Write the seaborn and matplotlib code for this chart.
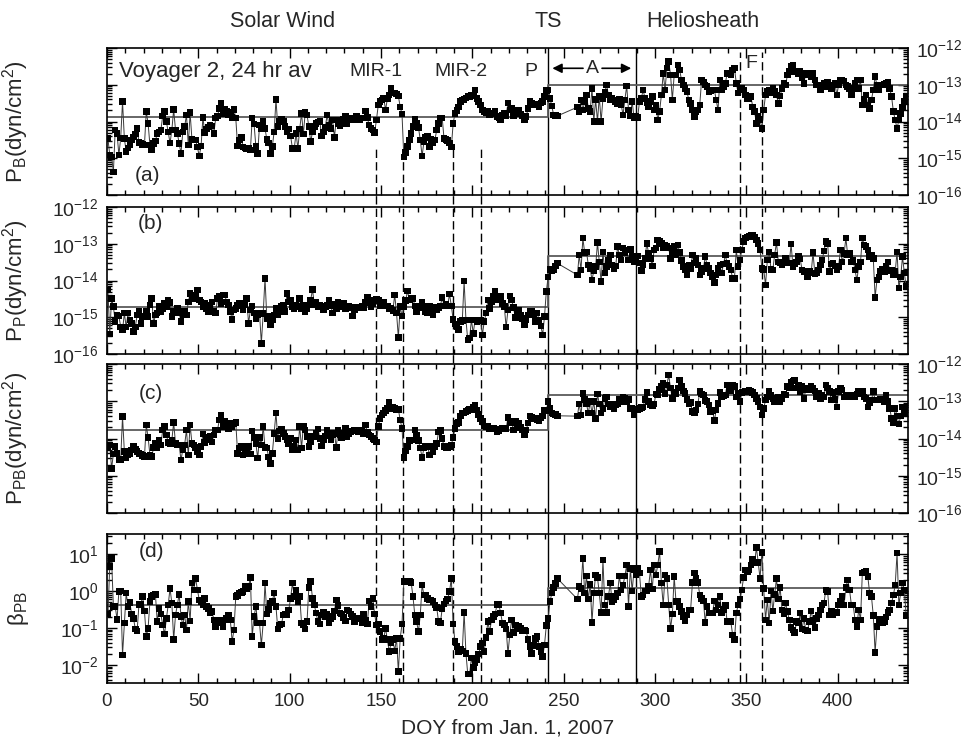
import numpy as np
import pandas as pd
import seaborn as sns
import matplotlib.pyplot as plt
from matplotlib.ticker import MultipleLocator, LogLocator, NullFormatter

# daily averages: days 0..246, data gap, days 257..437 (plotted at day centres)
doy_pre = np.arange(0, 247) + 0.5
doy_post = np.arange(257, 438) + 0.5

# log10 P_B (dyn/cm^2)
pb_pre = [
    -14.46, -14.91, -14.96, -15.37, -14.23, -14.32, -14.91, -14.45, -13.46, -14.46,
    -14.82, -14.72, -14.64, -14.50, -14.42, -14.34, -14.19, -14.57, -14.59, -14.62,
    -14.64, -13.73, -14.05, -14.64, -14.76, -14.60, -14.53, -14.32, -14.28, -14.23,
    -13.85, -13.73, -14.00, -14.28, -14.59, -14.23, -13.67, -14.23, -14.32, -14.60,
    -14.87, -14.28, -14.14, -13.82, -14.64, -13.76, -14.49, -14.50, -14.50, -14.70,
    -14.94, -14.67, -13.89, -14.30, -14.21, -14.15, -14.10, -14.12, -14.32, -13.91,
    -13.85, -13.64, -13.49, -13.78, -13.67, -13.73, -13.82, -13.76, -13.89, -13.67,
    -13.91, -14.67, -14.50, -14.43, -14.70, -14.72, -14.73, -14.74, -14.78, -13.91,
    -14.07, -14.68, -14.87, -14.10, -14.20, -14.00, -14.19, -14.49, -14.58, -14.87,
    -14.68, -14.28, -13.40, -14.14, -14.00, -13.94, -13.98, -14.14, -14.28, -14.21,
    -14.39, -14.73, -14.73, -14.32, -14.73, -14.20, -13.78, -14.34, -13.76, -13.82,
    -14.14, -14.55, -14.28, -14.14, -14.05, -14.02, -14.00, -14.39, -14.28, -14.16,
    -13.82, -14.10, -14.19, -13.96, -14.43, -13.96, -14.05, -14.11, -14.05, -13.94,
    -13.85, -14.07, -13.96, -13.96, -13.91, -13.94, -13.87, -13.92, -13.96, -13.91,
    -13.91, -13.71, -13.89, -14.10, -14.19, -14.23, -14.30, -13.96, -13.55, -13.45,
    -13.41, -13.37, -13.69, -13.37, -13.28, -13.10, -13.23, -13.23, -13.25, -13.31,
    -13.60, -13.80, -14.97, -14.85, -14.68, -14.50, -14.32, -14.14, -13.94, -14.05,
    -14.16, -14.50, -14.94, -14.55, -14.43, -14.41, -14.68, -14.49, -14.59, -14.50,
    -14.23, -14.05, -13.91, -13.91, -14.46, -14.49, -14.52, -14.59, -14.70, -14.05,
    -13.78, -13.70, -13.61, -13.46, -13.41, -13.40, -13.36, -13.32, -13.32, -13.28,
    -13.31, -13.14, -13.37, -13.46, -13.55, -13.69, -13.73, -13.76, -13.71, -13.82,
    -13.78, -13.78, -13.73, -13.87, -13.90, -13.96, -13.82, -13.78, -13.85, -13.49,
    -13.69, -13.64, -13.85, -13.69, -13.73, -13.69, -13.80, -13.85, -13.96, -13.87,
    -13.64, -13.46, -13.51, -13.55, -13.52, -13.55, -13.60, -13.50, -13.46, -13.32,
    -13.16, -13.14, -13.37, -13.58, -13.82, -13.84, -13.85,
]
pb_post = [
    -13.61, -13.73, -13.41, -13.69, -13.46, -13.28, -13.64, -13.73, -13.10, -14.00,
    -13.40, -14.00, -13.32, -14.00, -13.37, -13.20, -13.01, -13.28, -13.41, -13.37,
    -13.41, -13.46, -13.51, -13.40, -13.55, -13.82, -13.41, -13.03, -13.69, -13.85,
    -13.46, -13.89, -13.85, -13.89, -13.46, -13.37, -13.14, -13.37, -13.50, -13.60,
    -13.46, -13.32, -13.69, -13.55, -13.96, -13.73, -13.28, -12.69, -13.14, -12.55,
    -12.37, -12.73, -13.41, -12.73, -12.73, -12.46, -12.60, -12.87, -13.01, -13.10,
    -13.19, -13.41, -13.51, -13.69, -13.87, -13.73, -13.69, -13.55, -12.87, -12.92,
    -13.01, -13.05, -13.19, -13.15, -13.14, -13.14, -13.41, -13.69, -12.87, -13.14,
    -13.05, -12.96, -12.69, -12.69, -12.73, -12.60, -12.55, -12.96, -13.23, -13.10,
    -13.10, -13.14, -13.28, -13.37, -13.37, -13.32, -13.60, -13.73, -14.05, -13.87,
    -13.95, -14.19, -13.69, -13.28, -13.19, -13.14, -13.23, -13.10, -13.19, -13.28,
    -13.51, -13.30, -13.10, -12.96, -13.01, -12.73, -12.64, -12.51, -12.46, -12.64,
    -12.64, -12.69, -12.64, -12.80, -12.96, -12.69, -12.73, -12.69, -12.78, -12.69,
    -12.87, -13.01, -13.01, -13.14, -13.05, -12.96, -13.05, -12.92, -13.01, -13.10,
    -13.01, -12.96, -13.28, -13.01, -12.87, -12.87, -12.90, -13.01, -13.05, -13.10,
    -13.28, -13.10, -12.96, -12.87, -13.10, -12.87, -13.55, -13.40, -13.28, -13.55,
    -13.64, -13.41, -13.14, -12.78, -13.01, -13.14, -13.01, -13.01, -12.98, -12.96,
    -12.92, -13.10, -13.32, -13.73, -13.96, -14.19, -13.96, -13.78, -13.60, -13.46,
    -13.32,
]

# log10 P_P (dyn/cm^2)
pp_pre = [
    -14.26, -15.46, -14.49, -14.71, -15.12, -14.94, -14.97, -15.26, -15.35, -14.89,
    -15.26, -14.89, -15.07, -15.17, -15.39, -15.26, -14.94, -14.85, -15.17, -14.98,
    -14.98, -14.85, -14.98, -14.67, -14.49, -15.17, -14.94, -14.89, -14.71, -14.85,
    -14.76, -14.62, -14.71, -14.53, -14.60, -14.98, -14.85, -14.89, -14.76, -14.89,
    -15.12, -14.94, -14.85, -14.94, -14.58, -14.35, -14.49, -14.49, -14.40, -14.26,
    -14.53, -14.58, -14.71, -14.62, -14.76, -14.85, -14.67, -14.58, -14.85, -14.89,
    -14.49, -14.44, -14.62, -14.40, -14.40, -14.58, -14.67, -14.85, -15.06, -14.80,
    -14.76, -14.67, -14.62, -14.69, -14.80, -14.67, -14.49, -15.17, -14.80, -14.69,
    -14.89, -15.03, -14.94, -14.89, -15.71, -14.90, -13.94, -15.03, -14.98, -15.21,
    -15.07, -14.94, -14.76, -14.94, -14.85, -14.71, -14.67, -14.85, -14.35, -14.58,
    -14.53, -14.71, -14.76, -14.67, -14.71, -14.49, -14.76, -14.67, -14.85, -14.76,
    -14.67, -14.53, -14.24, -14.67, -14.58, -14.71, -14.67, -14.71, -14.80, -14.71,
    -14.67, -14.53, -14.69, -14.89, -14.64, -14.76, -14.58, -14.69, -14.71, -14.62,
    -14.76, -14.71, -14.69, -14.73, -14.97, -14.80, -14.73, -14.73, -14.73, -14.71,
    -14.73, -14.60, -14.46, -14.58, -14.71, -14.62, -14.53, -14.51, -14.55, -14.69,
    -14.60, -14.58, -14.69, -14.69, -14.76, -14.76, -14.82, -14.39, -14.88, -15.55,
    -14.71, -14.97, -14.71, -14.55, -14.28, -14.53, -14.49, -14.49, -14.69, -14.85,
    -14.69, -14.73, -14.58, -14.71, -14.85, -14.89, -14.71, -14.80, -14.94, -14.73,
    -14.80, -14.75, -14.69, -14.46, -14.69, -14.64, -14.69, -14.37, -14.69, -15.06,
    -15.18, -15.27, -15.33, -15.12, -15.09, -14.02, -15.07, -15.62, -15.57, -15.07,
    -15.44, -15.07, -15.12, -15.09, -15.07, -15.48, -15.12, -14.89, -14.53, -14.76,
    -14.58, -14.44, -14.28, -14.53, -14.48, -14.44, -14.62, -14.71, -15.27, -14.80,
    -14.42, -14.53, -14.73, -15.00, -14.82, -14.80, -14.94, -15.03, -15.21, -15.07,
    -14.94, -14.85, -14.85, -14.94, -15.12, -14.89, -15.07, -15.24, -15.48, -14.98,
    -14.30, -13.90, -13.70, -13.73, -13.72, -13.60, -13.53,
]
pp_post = [
    -13.85, -13.31, -13.71, -12.85, -13.24, -13.22, -13.58, -13.67, -13.99, -13.73,
    -13.62, -12.97, -13.49, -14.03, -13.22, -13.80, -13.62, -13.44, -13.31, -13.58,
    -13.67, -13.61, -13.08, -13.31, -13.44, -13.12, -13.25, -13.17, -13.44, -13.15,
    -13.35, -13.49, -13.49, -13.33, -13.53, -13.73, -13.58, -13.40, -12.99, -13.26,
    -13.40, -13.61, -13.17, -13.12, -12.90, -12.94, -13.00, -13.12, -13.03, -13.08,
    -13.12, -13.40, -13.26, -13.08, -13.31, -13.03, -13.24, -13.45, -13.62, -13.71,
    -13.85, -13.58, -13.67, -13.31, -13.53, -13.40, -13.58, -13.85, -13.75, -13.67,
    -13.35, -13.58, -13.67, -13.80, -13.90, -14.06, -13.85, -13.67, -13.58, -13.79,
    -13.55, -13.31, -13.53, -13.62, -13.71, -13.94, -13.94, -13.17, -13.62, -13.44,
    -13.17, -12.94, -12.85, -12.81, -12.79, -12.77, -12.76, -12.81, -12.90, -12.99,
    -13.17, -13.67, -13.70, -14.12, -13.44, -13.22, -13.70, -13.71, -13.30, -12.97,
    -13.49, -13.53, -13.58, -13.49, -13.40, -13.53, -13.53, -13.01, -13.62, -13.55,
    -13.49, -13.35, -13.42, -13.71, -13.76, -13.76, -13.90, -13.76, -13.79, -13.24,
    -13.82, -13.79, -13.71, -13.58, -13.44, -13.20, -12.94, -12.99, -13.76, -13.55,
    -13.53, -13.60, -13.71, -13.62, -13.17, -13.49, -13.26, -12.85, -13.31, -13.26,
    -13.49, -13.44, -13.71, -13.99, -13.62, -13.49, -12.85, -13.03, -13.08, -13.17,
    -13.35, -13.31, -13.40, -14.46, -13.99, -13.90, -13.76, -13.70, -13.76, -13.60,
    -13.49, -13.73, -13.71, -13.85, -13.76, -13.22, -14.21, -13.90, -13.35, -13.80,
    -14.17,
]

# log10 P_PB (dyn/cm^2)
ppb_pre = [
    -14.26, -14.17, -14.80, -14.42, -14.22, -14.40, -14.58, -14.56, -13.41, -14.35,
    -14.51, -14.44, -14.40, -14.31, -14.22, -14.29, -14.35, -14.40, -14.42, -14.45,
    -14.49, -13.64, -13.97, -14.44, -14.49, -14.24, -14.13, -14.26, -14.04, -14.17,
    -13.77, -13.68, -13.90, -14.11, -14.13, -14.04, -13.57, -14.13, -14.17, -14.17,
    -14.58, -14.29, -14.17, -13.77, -14.44, -13.64, -14.13, -14.17, -14.24, -14.35,
    -14.44, -14.22, -13.88, -14.11, -14.04, -13.97, -13.95, -14.09, -13.90, -13.77,
    -13.77, -13.50, -13.37, -13.68, -13.55, -13.64, -13.73, -13.59, -13.68, -13.60,
    -13.57, -14.40, -14.26, -14.22, -14.44, -14.40, -14.33, -14.22, -14.42, -13.80,
    -13.98, -14.13, -14.53, -13.97, -14.17, -13.68, -14.24, -14.26, -14.50, -14.67,
    -14.40, -13.86, -13.31, -14.00, -13.80, -13.74, -13.86, -13.95, -14.04, -14.13,
    -14.00, -14.31, -14.20, -14.04, -14.31, -13.68, -14.26, -13.66, -13.77, -13.95,
    -14.22, -14.09, -13.95, -13.95, -13.86, -13.74, -14.00, -14.20, -14.04, -13.93,
    -13.77, -13.86, -14.04, -13.90, -13.86, -14.24, -13.77, -13.91, -13.97, -13.86,
    -13.73, -13.95, -13.86, -13.82, -13.80, -13.77, -13.77, -13.82, -13.77, -13.77,
    -13.86, -13.64, -13.82, -13.91, -13.95, -14.00, -14.04, -14.09, -13.68, -13.46,
    -13.37, -13.32, -13.25, -13.19, -13.04, -13.16, -13.17, -13.19, -13.22, -13.22,
    -13.50, -13.73, -14.51, -14.33, -14.22, -14.06, -14.04, -14.04, -13.77, -13.90,
    -14.06, -14.26, -14.51, -14.26, -14.22, -14.22, -14.44, -14.22, -14.35, -14.22,
    -14.13, -13.82, -13.79, -14.00, -14.22, -14.24, -14.26, -14.22, -14.17, -13.97,
    -13.73, -13.60, -13.57, -13.40, -13.32, -13.31, -13.28, -13.25, -13.22, -13.23,
    -13.15, -13.10, -13.23, -13.35, -13.46, -13.55, -13.66, -13.68, -13.66, -13.73,
    -13.73, -13.73, -13.75, -13.82, -13.78, -13.75, -13.73, -13.73, -13.75, -13.43,
    -13.55, -13.57, -13.77, -13.55, -13.61, -13.59, -13.70, -13.77, -13.91, -13.77,
    -13.59, -13.40, -13.43, -13.46, -13.46, -13.50, -13.52, -13.45, -13.40, -13.23,
    -13.25, -13.01, -13.19, -13.32, -13.34, -13.35, -13.39,
]
ppb_post = [
    -13.40, -13.07, -13.37, -12.79, -12.95, -13.07, -13.32, -13.01, -13.32, -13.01,
    -13.46, -12.81, -13.07, -13.31, -13.19, -12.92, -12.88, -13.07, -13.15, -13.07,
    -13.19, -13.10, -13.07, -12.95, -13.01, -12.88, -12.92, -13.01, -12.95, -13.19,
    -13.19, -13.37, -13.22, -13.23, -13.19, -13.17, -13.15, -12.95, -12.77, -13.01,
    -13.10, -13.13, -13.07, -12.81, -12.83, -12.68, -12.60, -12.52, -12.79, -12.56,
    -12.30, -12.65, -12.92, -12.77, -12.79, -12.65, -12.43, -12.60, -12.72, -12.79,
    -12.95, -13.06, -13.04, -13.28, -13.32, -13.23, -13.07, -12.74, -12.80, -12.83,
    -12.98, -13.01, -13.10, -13.28, -13.25, -13.52, -13.23, -13.06, -12.77, -12.88,
    -12.85, -12.83, -12.56, -12.70, -12.72, -12.56, -12.61, -12.88, -12.79, -13.01,
    -12.77, -12.75, -12.74, -12.72, -12.70, -12.74, -12.77, -12.83, -12.92, -13.01,
    -13.15, -13.37, -13.19, -12.97, -12.88, -12.74, -12.85, -12.92, -13.01, -12.95,
    -12.88, -13.01, -12.92, -12.81, -12.83, -12.61, -12.65, -12.50, -12.45, -12.43,
    -12.65, -12.56, -12.74, -12.61, -12.92, -12.70, -12.65, -12.70, -12.59, -12.65,
    -12.72, -12.88, -12.79, -12.92, -12.83, -12.88, -12.56, -12.65, -12.74, -12.97,
    -12.77, -12.95, -13.15, -12.74, -12.65, -12.70, -12.88, -12.83, -12.88, -12.89,
    -12.83, -12.86, -12.88, -12.81, -12.74, -12.79, -12.72, -12.89, -12.92, -13.15,
    -13.04, -12.97, -12.74, -12.97, -12.97, -12.97, -12.95, -12.97, -13.01, -12.83,
    -13.01, -13.19, -13.46, -13.57, -13.19, -13.40, -13.61, -13.40, -13.15, -13.32,
    -13.16,
]

# log10 beta_PB
beta_pre = [
    -0.63, 0.66, 0.88, -0.42, -0.42, -0.77, -0.02, 0.00, -1.73, -0.87,
    -0.06, -0.42, -0.31, -0.63, -0.74, -1.03, -1.08, -0.36, -0.36, -0.15,
    -0.54, -1.23, -1.01, -0.29, -0.15, -0.11, -0.09, -0.83, -0.47, -0.63,
    -0.92, -1.17, -0.75, -0.38, 0.07, -0.33, -1.32, -0.65, -0.38, -0.09,
    -0.69, -0.92, -0.65, -1.05, -0.29, -0.81, 0.21, 0.03, 0.34, 0.03,
    -0.24, -0.30, -0.38, -0.20, -0.42, -0.47, -0.60, -0.56, -0.78, -0.96,
    -0.83, -0.78, -0.87, -0.96, -0.78, -0.74, -0.65, -0.78, -1.37, -1.05,
    -0.15, -0.13, -0.06, -0.04, -0.02, 0.12, 0.05, 0.12, 0.36, -1.23,
    -0.69, -0.42, -0.87, -0.87, -1.46, -0.87, 0.21, -0.63, -0.50, -0.33,
    -0.27, -0.06, -0.42, -1.03, -0.92, -0.90, -0.65, -0.63, -0.65, -0.51,
    -0.20, 0.21, -0.15, 0.03, -0.29, -0.15, -0.87, -0.92, -1.03, -0.83,
    0.09, 0.25, -0.20, -0.38, -0.60, -0.83, -0.90, -0.65, -0.58, -0.69,
    -0.63, -0.85, -0.74, -0.69, -0.54, -0.24, -0.40, -0.60, -0.63, -0.72,
    -0.81, -0.51, -0.54, -0.63, -0.69, -0.83, -0.76, -0.75, -0.74, -0.87,
    -0.63, -0.78, -0.90, -0.27, -0.42, -0.20, -0.63, -0.92, -0.90, -1.10,
    -1.32, -1.28, -1.01, -1.32, -1.64, -1.41, -1.32, -1.62, -1.28, -2.18,
    -1.28, -0.90, 0.25, 0.27, 0.25, 0.27, 0.23, -0.15, -0.65, -0.83,
    -1.10, -0.65, 0.16, -0.11, -0.11, -0.20, -0.24, -0.24, -0.29, -0.38,
    -0.45, -0.83, -0.87, -0.47, -0.35, -0.27, -0.22, -0.02, 0.34, -0.90,
    -1.37, -1.50, -1.64, -1.59, -1.62, -0.58, -1.69, -2.25, -2.25, -1.82,
    -2.07, -1.93, -1.87, -1.70, -1.50, -1.41, -1.64, -1.26, -0.83, -1.10,
    -0.78, -0.69, -0.63, -0.36, -0.36, -0.60, -0.87, -0.92, -1.03, -1.69,
    -1.19, -0.78, -1.12, -0.92, -1.01, -0.96, -1.00, -1.08, -1.05, -1.08,
    -1.32, -1.50, -1.69, -1.48, -1.28, -1.23, -1.50, -1.64, -1.78, -1.46,
    -0.94, -0.74, -0.29, -0.06, 0.09, 0.20, 0.34,
]
beta_post = [
    -0.22, 0.12, 0.07, 0.88, -0.06, 0.41, -0.22, 0.18, -0.85, -0.06,
    0.43, 0.36, -0.06, -0.58, 0.84, -0.38, -0.58, -0.15, 0.21, -0.29,
    -0.24, -0.15, -0.06, 0.41, 0.03, 0.16, 0.40, 0.70, -0.42, 0.61,
    0.00, 0.57, 0.45, 0.61, 0.48, -0.15, -0.11, 0.00, 0.00, 0.12,
    0.57, 0.05, 0.70, 0.43, 0.70, 1.06, 0.21, -0.38, 0.43, 0.34,
    -0.38, -1.01, -0.63, 0.39, -0.29, -0.29, -0.42, -0.55, -0.69, -0.81,
    -0.65, -0.51, -0.51, 0.23, 0.48, 0.34, 0.23, -0.11, -0.20, -0.27,
    -0.85, -0.42, -0.60, -0.60, -0.60, -0.27, -0.51, -0.38, -0.15, -0.58,
    -0.50, -0.40, -0.83, -0.83, -0.83, -1.19, -1.32, -0.60, -0.38, -0.22,
    0.03, 0.36, 0.57, 0.53, 0.57, 0.70, 0.86, 0.75, 1.17, 0.77,
    0.34, 1.04, 0.07, -0.78, -0.24, -0.87, 0.00, -0.54, -0.10, 0.34,
    -0.22, 0.09, -0.51, -0.63, -0.33, -0.56, -0.78, -0.99, -1.05, -1.12,
    -0.83, -0.87, -0.60, -1.03, -0.74, -1.05, -1.08, -0.83, -0.54, -0.80,
    -0.99, -0.74, -0.65, -0.51, -0.38, -0.33, 0.03, -0.02, -0.65, -0.54,
    -0.65, -0.60, -0.58, -0.38, -0.29, -0.15, -0.38, 0.09, 0.30, 0.03,
    -0.38, -0.38, -0.78, -0.96, -0.51, -0.78, 0.48, 0.50, 0.54, 0.39,
    -0.06, -0.15, -0.67, -1.66, -0.96, -0.81, -0.76, -0.85, -0.83, -0.70,
    -0.58, -0.51, -0.33, -0.11, 0.16, 1.02, -0.38, -0.06, 0.21, 0.03,
    -0.67,
]

# mean levels: solar wind / heliosheath
mean_sw = [1.35e-14, 1.87e-15, 1.7e-14, 0.42]
mean_hs = [1.0e-13, 4.7e-14, 1.47e-13, 1.23]

# event boundaries (DOY)
ts_day = 241.4
a_end = 289.8
mir_lines = [147.4, 162.0, 189.2, 204.5]
f_lines = [346.4, 358.8]

ylabels = [r'P$_\mathregular{B}$(dyn/cm$^\mathregular{2}$)',
           r'P$_\mathregular{P}$(dyn/cm$^\mathregular{2}$)',
           r'P$_\mathregular{PB}$(dyn/cm$^\mathregular{2}$)',
           r'β$_\mathregular{PB}$']
letters = ['(a)', '(b)', '(c)', '(d)']
ylims = [(1e-16, 1e-12), (1e-16, 1e-12), (1e-16, 1e-12), (10 ** -2.49, 10 ** 1.54)]

sns.set_style('ticks')
plt.rcParams['font.family'] = ['Liberation Sans', 'DejaVu Sans']
plt.rcParams['mathtext.fontset'] = 'custom'
plt.rcParams['mathtext.rm'] = 'Liberation Sans'
plt.rcParams['mathtext.it'] = 'Liberation Sans:italic'
plt.rcParams['mathtext.bf'] = 'Liberation Sans:bold'
plt.rcParams['mathtext.default'] = 'regular'

doy = np.concatenate([doy_pre, doy_post])
series = [pb_pre + pb_post, pp_pre + pp_post, ppb_pre + ppb_post, beta_pre + beta_post]
for s in series:
    assert len(s) == len(doy), len(s)

W, H = 964, 745
boxes = [(48, 195), (207, 354), (364, 513), (534, 683)]

fig = plt.figure(figsize=(W / 100, H / 100), dpi=100)
axes = []
for i, (top, bot) in enumerate(boxes):
    ax = fig.add_axes([107 / W, 1 - bot / H, 801 / W, (bot - top) / H])
    ax.set_yscale('log')
    df = pd.DataFrame({'doy': doy, 'val': 10.0 ** np.array(series[i])})

    # mean levels (step at the shock)
    ax.plot([0, ts_day, ts_day, 438.5], [mean_sw[i], mean_sw[i], mean_hs[i], mean_hs[i]],
            color='#5a5a5a', lw=1.3, zorder=1.5)

    sns.lineplot(data=df, x='doy', y='val', ax=ax, color='#3a3a3a', lw=0.7,
                 estimator=None, sort=False, zorder=2)
    sns.scatterplot(data=df, x='doy', y='val', ax=ax, marker='s', s=22,
                    color='black', edgecolor='none', linewidth=0, zorder=3)

    ax.set_xlim(0, 438.5)
    ax.set_ylim(*ylims[i])

    # vertical boundaries, carried through the gap above each lower panel
    ext = 1.0
    if i > 0:
        ext = 1 + (top - boxes[i - 1][1]) / (bot - top)
    for xv in (ts_day, a_end):
        ax.axvline(xv, ymin=0, ymax=ext, color='black', lw=1.0, clip_on=False, zorder=1)
    for xv in mir_lines:
        ax.axvline(xv, ymin=0, ymax=(0.34 if i == 0 else ext), color='black', lw=1.0,
                   ls=(0, (6, 3)), clip_on=False, zorder=1)
    for xv in f_lines:
        ax.axvline(xv, ymin=0, ymax=(0.97 if i == 0 else ext), color='black', lw=1.0,
                   ls=(0, (6, 3)), clip_on=False, zorder=1)

    ax.xaxis.set_major_locator(MultipleLocator(50))
    ax.xaxis.set_minor_locator(MultipleLocator(10))
    ax.yaxis.set_major_locator(LogLocator(base=10, numticks=10))
    ax.yaxis.set_minor_locator(LogLocator(base=10, subs=np.arange(2, 10), numticks=10))
    ax.yaxis.set_minor_formatter(NullFormatter())
    ax.tick_params(which='both', direction='in', top=True, bottom=True, left=True, right=True,
                   width=1.0, color='black')
    ax.tick_params(which='major', length=7)
    ax.tick_params(which='minor', length=3.5)
    ax.tick_params(axis='x', labelsize=13.5, pad=7, labelbottom=(i == 3))
    right_labels = i in (0, 2)
    ax.tick_params(axis='y', labelsize=14, pad=6, labelleft=not right_labels,
                   labelright=right_labels)
    ax.yaxis.get_offset_text().set_visible(False)
    ax.xaxis.get_offset_text().set_visible(False)

    for sp in ax.spines.values():
        sp.set_color('black')
        sp.set_linewidth(1.2)

    ax.set_ylabel(ylabels[i], fontsize=16)
    ax.yaxis.set_label_position('left')
    ax.yaxis.set_label_coords(-0.095, 0.5)
    ax.set_xlabel('')
    axes.append(ax)

axa, axb, axc, axd = axes
axd.set_xlabel('DOY from Jan. 1, 2007', fontsize=15, labelpad=6)

# panel letters
letter_pos = [(15.0, 0.136), (16.7, 0.89), (17.2, 0.805), (17.2, 0.88)]
for ax, lab, (lx, ly) in zip(axes, letters, letter_pos):
    ax.text(lx, ly, lab, transform=ax.get_xaxis_transform(), fontsize=15,
            ha='left', va='center')

ta = axa.get_xaxis_transform()
axa.text(96, 1.177, 'Solar Wind', transform=ta, ha='center', va='center', fontsize=15.5)
axa.text(ts_day, 1.177, 'TS', transform=ta, ha='center', va='center', fontsize=15.5)
axa.text(326, 1.177, 'Heliosheath', transform=ta, ha='center', va='center', fontsize=15.5)
axa.text(6.8, 0.84, 'Voyager 2, 24 hr av', transform=ta, ha='left', va='center', fontsize=16)
axa.text(147.2, 0.84, 'MIR-1', transform=ta, ha='center', va='center', fontsize=14)
axa.text(193.6, 0.84, 'MIR-2', transform=ta, ha='center', va='center', fontsize=14)
axa.text(231.9, 0.84, 'P', transform=ta, ha='center', va='center', fontsize=14)
axa.text(265.6, 0.862, 'A', transform=ta, ha='center', va='center', fontsize=14)
axa.text(352.8, 0.896, 'F', transform=ta, ha='center', va='center', fontsize=14)
arrow = dict(arrowstyle='-|>', color='black', lw=1.2, mutation_scale=14, shrinkA=0, shrinkB=0)
axa.annotate('', xy=(243.8, 0.862), xytext=(260.6, 0.862), xycoords=ta, textcoords=ta,
             arrowprops=arrow)
axa.annotate('', xy=(287.0, 0.862), xytext=(271.0, 0.862), xycoords=ta, textcoords=ta,
             arrowprops=arrow)

fig.savefig('out.png', dpi=100, facecolor='white')
